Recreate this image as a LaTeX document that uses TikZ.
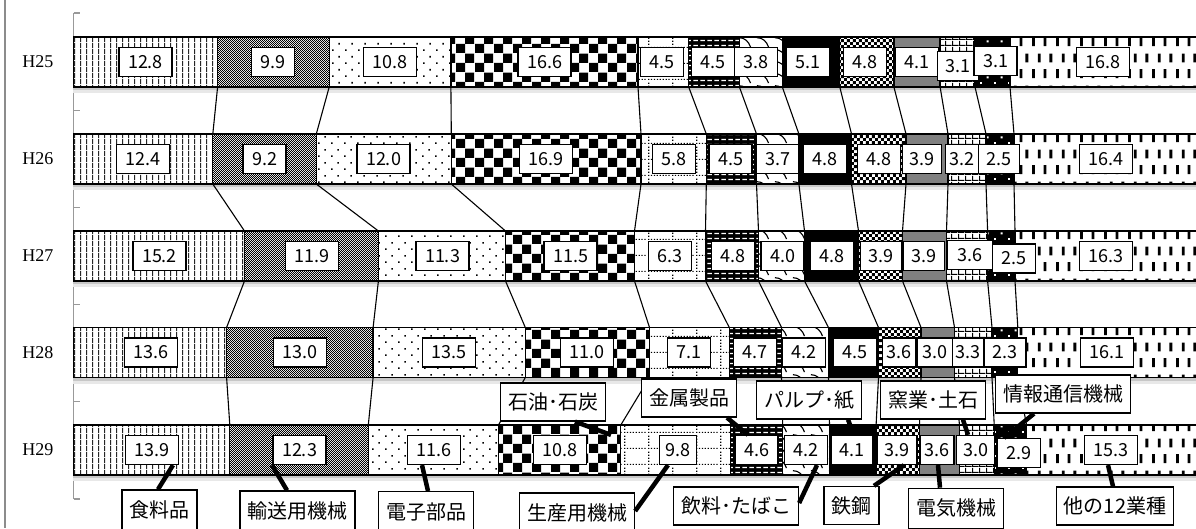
\documentclass[tikz,border=0pt]{standalone}
\usepackage{fontspec}
\setmainfont{Liberation Serif}
\newfontfamily\jpfont{Noto Sans CJK JP}
\usetikzlibrary{patterns.meta}

\tikzdeclarepattern{name=pVL,type=uncolored,
 bounding box={(0pt,0pt) and (6.2pt,6pt)},tile size={(6.2pt,6pt)},
 code={\fill (0pt,0pt) rectangle (1.2pt,6pt);}}
\tikzdeclarepattern{name=pFine,type=uncolored,
 bounding box={(0pt,0pt) and (2.4pt,2.4pt)},tile size={(2.4pt,2.4pt)},
 code={\fill (0pt,0pt) rectangle (1.2pt,1.2pt); \fill (1.2pt,1.2pt) rectangle (2.4pt,2.4pt);}}
\tikzdeclarepattern{name=pSparse,type=uncolored,
 bounding box={(0pt,0pt) and (13.3pt,13.3pt)},tile size={(13.3pt,13.3pt)},
 code={\fill (0pt,0pt) rectangle (1.7pt,1.7pt); \fill (6.65pt,6.65pt) rectangle (8.35pt,8.35pt);}}
\tikzdeclarepattern{name=pBigChk,type=uncolored,
 bounding box={(0pt,0pt) and (19pt,19pt)},tile size={(19pt,19pt)},
 code={\fill (0pt,0pt) rectangle (9.5pt,9.5pt); \fill (9.5pt,9.5pt) rectangle (19pt,19pt);}}
\tikzdeclarepattern{name=pDotGrid,type=uncolored,
 bounding box={(0pt,0pt) and (24pt,16pt)},tile size={(24pt,16pt)},
 code={\foreach \j in {0,...,7}{\fill (\j*3pt,0pt) rectangle ++(1.3pt,1.3pt);}
       \foreach \j in {1,...,4}{\fill (0pt,\j*3.2pt) rectangle ++(1.3pt,1.3pt);}}}
\tikzdeclarepattern{name=pDash,type=uncolored,
 bounding box={(0pt,0pt) and (7pt,4.5pt)},tile size={(7pt,4.5pt)},
 code={\fill (0.5pt,1pt) rectangle (5.5pt,2.3pt);}}
\tikzdeclarepattern{name=pWave,type=uncolored,
 bounding box={(0pt,0pt) and (18pt,12pt)},tile size={(18pt,12pt)},
 code={\draw[line width=1.2pt] (1pt,11pt) .. controls (7pt,11pt) and (11pt,7pt) .. (13pt,1pt);}}
\tikzdeclarepattern{name=pSmChk,type=uncolored,
 bounding box={(0pt,0pt) and (6.4pt,6.4pt)},tile size={(6.4pt,6.4pt)},
 code={\fill (0pt,0pt) rectangle (3.2pt,3.2pt); \fill (3.2pt,3.2pt) rectangle (6.4pt,6.4pt);}}
\tikzdeclarepattern{name=pGrid,type=uncolored,
 bounding box={(0pt,0pt) and (6.7pt,5.5pt)},tile size={(6.7pt,5.5pt)},
 code={\fill (0pt,0pt) rectangle (6.7pt,1.1pt); \fill (0pt,0pt) rectangle (1.1pt,5.5pt);}}
\tikzdeclarepattern{name=pBDots,type=uncolored,
 bounding box={(0pt,0pt) and (14pt,12pt)},tile size={(14pt,12pt)},
 code={\fill (0pt,0pt) rectangle (2pt,2pt); \fill (7pt,6pt) rectangle (9pt,8pt);}}
\tikzdeclarepattern{name=pVDash,type=uncolored,
 bounding box={(0pt,0pt) and (24pt,32pt)},tile size={(24pt,32pt)},
 code={\fill (0pt,2pt) rectangle (3pt,11pt); \fill (12pt,2pt) rectangle (15pt,11pt);
       \fill (6pt,18pt) rectangle (9pt,27pt); \fill (18pt,18pt) rectangle (21pt,27pt);}}

\newcommand\drawrow[3]{%
  \fill[black!22] (73.3,#2+50) rectangle (1200,#2+53);
  \fill[black!9] (73.3,#2+53) rectangle (1200,#2+56);
  \foreach \k in {1,...,13}{%
    \pgfmathsetmacro\xa{{#3}[\k-1]}%
    \pgfmathsetmacro\xb{{#3}[\k]}%
    \fill[bg\k] (\xa,#2) rectangle (\xb,#2+50);
    \fill[k\k] (\xa,#2) rectangle (\xb,#2+50);
    \draw[segline] (\xa,#2) rectangle (\xb,#2+50);
    \coordinate (r#1t\k) at (\xb,#2);
    \coordinate (r#1b\k) at (\xb,#2+50);
  }%
}
\newcommand\vals[2]{%
  \foreach \v/\lx/\ly/\sx [count=\k] in {#2}{%
    \node[val,inner xsep=\sx pt] (v#1-\k) at (\lx,\ly) {\v};}%
}

\begin{document}
\begin{tikzpicture}[x=1pt,y=-1pt,
  bg1/.style={fill=white},bg2/.style={fill=white},bg3/.style={fill=white},
  bg4/.style={fill=white},bg5/.style={fill=white},bg6/.style={fill=black},
  bg7/.style={fill=white},bg8/.style={fill=black},bg9/.style={fill=white},
  bg10/.style={fill=gray},bg11/.style={fill=white},bg12/.style={fill=black},
  bg13/.style={fill=white},
  k1/.style={pattern=pVL,pattern color=black!85},
  k2/.style={pattern=pFine,pattern color=black},
  k3/.style={pattern=pSparse,pattern color=black},
  k4/.style={pattern=pBigChk,pattern color=black},
  k5/.style={pattern=pDotGrid,pattern color=black},
  k6/.style={pattern=pDash,pattern color=white},
  k7/.style={pattern=pWave,pattern color=black},
  k8/.style={fill=black},
  k9/.style={pattern=pSmChk,pattern color=black},
  k10/.style={fill=gray},
  k11/.style={pattern=pGrid,pattern color=black},
  k12/.style={pattern=pBDots,pattern color=white},
  k13/.style={pattern=pVDash,pattern color=black},
  segline/.style={draw=black,line width=1.3pt},
  series/.style={draw=black,line width=1.1pt},
  val/.style={draw=black,line width=1.2pt,fill=white,font=\jpfont\fontsize{18}{18}\selectfont,minimum height=29pt,inner ysep=0pt},
  cat/.style={draw=black,line width=1.3pt,fill=white,font=\jpfont\fontsize{20}{20}\selectfont,minimum height=38pt,inner xsep=7.5pt,inner ysep=0pt},
  tall/.style={minimum height=40pt},
  leader/.style={draw=black,line width=4.5pt},
  yr/.style={font=\fontsize{18}{18}\selectfont,inner sep=0pt,anchor=east},
  axisline/.style={draw=black!40,line width=1.2pt}]
\useasboundingbox (0,0) rectangle (1196,528);
\fill[white] (0,0) rectangle (1196,528);

% frame and axis
\draw[draw=black!45,line width=1.3pt] (5,0) -- (5,528);
\draw[axisline] (73.5,13) -- (73.5,499);
\foreach \ty in {13,110.2,207.4,304.6,401.8,499}{\draw[axisline] (73.5,\ty) -- (80,\ty);}

% year labels
\node[yr] (y25) at (53.5,62) {H25};
\node[yr] (y26) at (53.5,159) {H26};
\node[yr] (y27) at (53.5,256) {H27};
\node[yr] (y28) at (53.5,352.5) {H28};
\node[yr] (y29) at (53.5,450) {H29};

% bars
\drawrow{1}{37}{73.3,217.6,329.2,450.9,638.0,688.7,739.4,782.3,839.8,893.9,940.1,975.0,1010.0,1199.3}
\drawrow{2}{134}{73.3,212.8,316.3,451.3,641.0,706.3,756.5,798.9,851.5,906.0,948.0,986.0,1014.0,1199.3}
\drawrow{3}{231}{73.3,244.5,378.4,505.5,634.5,705.5,758.5,804.5,858.5,902.5,946.5,987.6,1015.0,1199.3}
\drawrow{4}{327.5}{73.3,226.6,373.1,525.3,649.5,729.3,781.5,828.5,878.5,921.0,954.5,992.0,1017.8,1199.3}
\drawrow{5}{425}{73.3,229.8,368.3,498.5,620.8,730.5,782.7,829.5,876.1,919.5,959.5,994.2,1026.5,1199.3}

% series lines
\foreach \ra/\rb in {1/2,2/3,3/4,4/5}{\foreach \k in {1,...,12}{\draw[series] (r\ra b\k) -- (r\rb t\k);}}

% value labels
\vals{1}{12.8/145.5/62/9,9.9/273/62/9,10.8/390/62/9,16.6/544.5/62/9,4.5/662/62/9,4.5/713/62/9,3.8/756/62/9,5.1/808/62/9,4.8/865/62/9,4.1/917/62/9,3.1/958/66/8,3.1/995.5/61/9,16.8/1103/62/9}
\vals{2}{12.4/143/159/9,9.2/264.5/159/9,12.0/383.5/159/9,16.9/546/159/9,5.8/674/159/9,4.5/730.5/159/9,3.7/777.5/159/9,4.8/825/159/9,4.8/879/159/9,3.9/922/159/7,3.2/962/159/4,2.5/999/159/8,16.4/1106/159/9}
\vals{3}{15.2/159.5/256/9,11.9/312/256/9,11.3/442.5/256/9,11.5/570.5/256/9,6.3/670/256/9,4.8/733/256/9,4.0/782.5/256/9,4.8/832/256/9,3.9/881/256/8,3.9/924/256/8,3.6/970/255/10,2.5/1014/258.5/9,16.3/1106/256/9}
\vals{4}{13.6/151/352.5/9,13.0/300/352.5/9,13.5/449/352.5/9,11.0/587/352.5/9,7.1/689/352.5/9,4.7/755/352.5/9,4.2/804/352.5/9,4.5/855/352.5/9,3.6/899/352.5/4,3.0/935/352.5/5.5,3.3/968/352.5/3,2.3/1005/352.5/8.5,16.1/1107/352.5/9}
\vals{5}{13.9/152/450/9,12.3/299.5/450/9,11.6/434/450/9,10.8/560/450/9,9.8/678/450/6,4.6/756.5/450/9,4.2/806/450/9,4.1/852/450/8,3.9/897/450/7.5,3.6/937/450/4.5,3.0/975.5/450/6.5,2.9/1019/453/9,15.3/1111/450/9}

% category labels
\node[cat,tall] (L1) at (159.5,510) {食料品};
\node[cat,tall] (L2) at (297.5,511) {輸送用機械};
\node[cat,tall] (L3) at (426,511.7) {電子部品};
\node[cat] (L4) at (553,402) {石油･石炭};
\node[cat,tall] (L5) at (577,513) {生産用機械};
\node[cat] (L6) at (689,398) {金属製品};
\node[cat] (L7) at (736,506) {飲料･たばこ};
\node[cat] (L8) at (809,400) {パルプ･紙};
\node[cat] (L9) at (851.5,505.5) {鉄鋼};
\node[cat,tall] (L10) at (956,508.3) {電気機械};
\node[cat] (L11) at (933,400) {窯業･土石};
\node[cat] (L12) at (1063,394) {情報通信機械};
\node[cat] (L13) at (1115,506) {他の12業種};

% leader lines
\draw[leader] (v5-1.south -| 173,0) -- (L1.north -| 158,0);
\draw[leader] (v5-2.south -| 272,0) -- (L2.north -| 287,0);
\draw[leader] (v5-3.south -| 422,0) -- (L3.north -| 428,0);
\draw[leader] (L4.south -| 575,0) -- (v5-4.north -| 611,0);
\draw[leader] (v5-5.south -| 668,0) -- (L5.east |- 0,511);
\draw[leader] (L6.south -| 727,0) -- (v5-6.north -| 748,0);
\draw[leader] (v5-7.south -| 817,0) -- (L7.east |- 0,503);
\draw[leader] (L8.south -| 848,0) -- (v5-8.north -| 854,0);
\draw[leader] (v5-9.south -| 904,0) -- (L9.north -| 874,0);
\draw[leader] (v5-10.south -| 938,0) -- (L10.north -| 940,0);
\draw[leader] (L11.south -| 963,0) -- (v5-11.north -| 968,0);
\draw[leader] (L12.south -| 1034,0) -- (v5-12.north -| 1004,0);
\draw[leader] (v5-13.south -| 1108,0) -- (L13.north -| 1113,0);
\end{tikzpicture}
\end{document}
